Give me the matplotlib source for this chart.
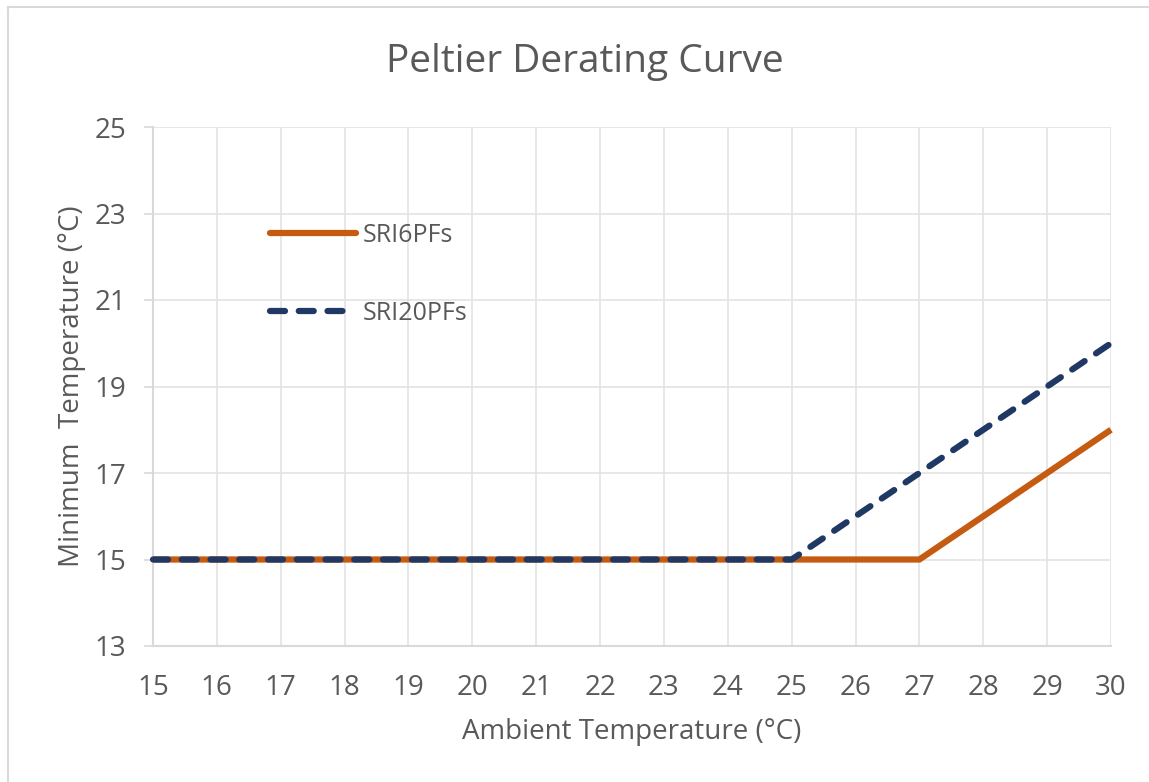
import matplotlib.pyplot as plt
from matplotlib.lines import Line2D

ambient = [15, 16, 17, 18, 19, 20, 21, 22, 23, 24, 25, 26, 27, 28, 29, 30]
sri6 = [15, 15, 15, 15, 15, 15, 15, 15, 15, 15, 15, 15, 15, 16, 17, 18]
sri20 = [15, 15, 15, 15, 15, 15, 15, 15, 15, 15, 15, 16, 17, 18, 19, 20]
y_ticks = [13, 15, 17, 19, 21, 23, 25]

plt.rcParams['font.family'] = ['Open Sans', 'DejaVu Sans']
text_col = '#595959'
grid_col = '#e3e3e3'
orange = '#c55a11'
navy = '#203864'

fig = plt.figure(figsize=(11.49, 7.82), dpi=100)
ax = fig.add_axes([153 / 1149, 1 - 646 / 782, (1111 - 153) / 1149, (646 - 127) / 782])

ax.plot(ambient, sri6, color=orange, lw=4.5, solid_capstyle='butt',
        solid_joinstyle='miter', clip_on=False, label='SRI6PFs', zorder=3)
ax.plot(ambient, sri20, color=navy, lw=4.5, dashes=(2.4, 2.2),
        dash_capstyle='round', clip_on=False, label='SRI20PFs', zorder=4)

ax.set_xlim(15, 30)
ax.set_ylim(13, 25)
ax.set_xticks(ambient)
ax.set_yticks(y_ticks)
ax.grid(True, color=grid_col, lw=1.2)
ax.set_axisbelow(True)
for s in ['top', 'right']:
    ax.spines[s].set_visible(False)
for s in ['left', 'bottom']:
    ax.spines[s].set_color('#d9d9d9')
    ax.spines[s].set_linewidth(1.5)
ax.tick_params(axis='y', length=6.5, width=1.2, color='#d9d9d9',
               labelsize=20, labelcolor=text_col, pad=13)
ax.tick_params(axis='x', length=0, labelsize=20, labelcolor=text_col, pad=20)

# title is centred on the whole chart area, not the plot area
fig.text(585 / 1149, 1 - 62 / 782, 'Peltier Derating Curve', fontsize=28,
         color=text_col, ha='center', va='center')
ax.set_xlabel('Ambient Temperature (°C)', fontsize=20, color=text_col, labelpad=12)
ax.set_ylabel('Minimum  Temperature (°C)', fontsize=20, color=text_col, labelpad=6)

handles = [
    Line2D([], [], color=orange, lw=4.5, solid_capstyle='round'),
    Line2D([], [], color=navy, lw=4.5, dashes=(2.4, 2.2), dash_capstyle='round'),
]
leg = ax.legend(handles, ['SRI6PFs', 'SRI20PFs'], loc='upper left',
                bbox_to_anchor=(270 / 1149, 1 - 223 / 782),
                bbox_transform=fig.transFigure, frameon=False,
                fontsize=18, handlelength=3.45, handletextpad=0.28,
                labelspacing=2.12, borderaxespad=0, borderpad=0)
for t in leg.get_texts():
    t.set_color(text_col)

# outer chart border (left and top edges visible)
fig.add_artist(Line2D([8 / 1149, 8 / 1149], [0, 1 - 7 / 782],
                      transform=fig.transFigure, color='#d9d9d9', lw=1.5))
fig.add_artist(Line2D([8 / 1149, 1], [1 - 7 / 782, 1 - 7 / 782],
                      transform=fig.transFigure, color='#d9d9d9', lw=1.5))

fig.savefig('out.png', dpi=100, facecolor='white')
